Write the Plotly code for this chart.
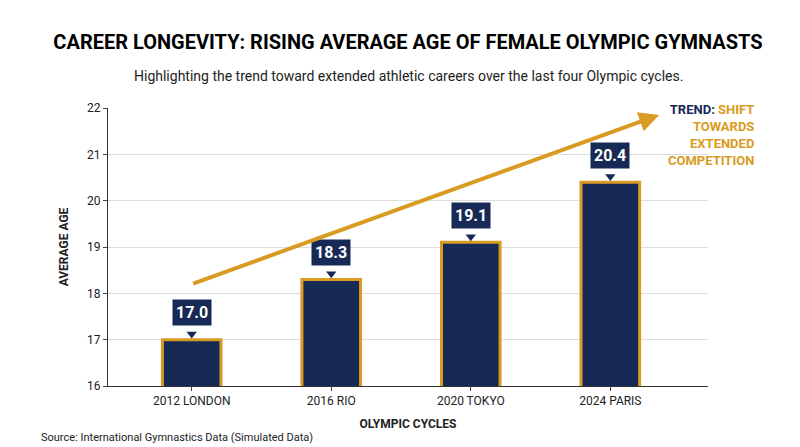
import plotly.graph_objects as go

cycles = ["2012 LONDON", "2016 RIO", "2020 TOKYO", "2024 PARIS"]
avg_age = [17.0, 18.3, 19.1, 20.4]
trend_x = [0, 3.35]
trend_y = [18.2, 21.85]

navy = "#172a56"
gold = "#d99b22"
font = "Roboto, Arial"

xs = list(range(len(cycles)))
fig = go.Figure()
fig.add_trace(go.Bar(x=xs, y=avg_age, width=0.42, marker=dict(color=navy, line=dict(color=gold, width=3)),
                     hoverinfo="skip"))
fig.add_trace(go.Scatter(x=xs, y=[v + 0.12 for v in avg_age], mode="markers",
                         marker=dict(symbol="triangle-down", size=9, color=navy), hoverinfo="skip"))

for x, v in zip(xs, avg_age):
    fig.add_annotation(x=x, y=v, text="<b>%.1f</b>" % v, showarrow=False, yshift=27,
                       bgcolor=navy, font=dict(color="white", size=16, family=font), borderpad=3)

fig.add_annotation(x=trend_x[1], y=trend_y[1], ax=trend_x[0], ay=trend_y[0], xref="x", yref="y",
                   axref="x", ayref="y", showarrow=True, arrowhead=2, arrowsize=1, arrowwidth=4,
                   arrowcolor=gold, text="")
fig.add_annotation(x=1.08, y=1.03, xref="paper", yref="paper", xanchor="right", yanchor="top", showarrow=False,
                   align="right", font=dict(size=13, family=font),
                   text="<b><span style='color:%s'>TREND:</span> <span style='color:%s'>SHIFT<br>TOWARDS<br>EXTENDED<br>COMPETITION</span></b>" % (navy, gold))

fig.update_layout(
    width=800, height=447, showlegend=False, plot_bgcolor="white", paper_bgcolor="white",
    margin=dict(l=100, r=100, t=100, b=69, autoexpand=False),
    title=dict(text="<b>CAREER LONGEVITY: RISING AVERAGE AGE OF FEMALE OLYMPIC GYMNASTS</b>",
               x=0.5, y=0.925, xanchor="center", yanchor="middle",
               font=dict(size=20, family=font, color="black")),
    font=dict(family=font, color="#222"),
    xaxis=dict(tickvals=xs, ticktext=cycles, range=[-0.6, 3.7], showline=True, linecolor="#333",
               ticks="outside", ticklen=4, tickfont=dict(size=12),
               title=dict(text="<b>OLYMPIC CYCLES</b>", font=dict(size=12), standoff=12)),
    yaxis=dict(range=[16, 22], dtick=1, gridcolor="#dddddd", showline=True, linecolor="#333",
               ticks="outside", ticklen=4, tickfont=dict(size=12),
               title=dict(text="<b>AVERAGE AGE</b>", font=dict(size=12))),
)
fig.add_annotation(x=0.5, y=1.15, xref="paper", yref="paper", showarrow=False,
                   text="Highlighting the trend toward extended athletic careers over the last four Olympic cycles.",
                   font=dict(size=14, family=font, color="#222"))
fig.add_annotation(x=-0.115, y=-0.215, xref="paper", yref="paper", showarrow=False, xanchor="left",
                   text="Source: International Gymnastics Data (Simulated Data)", font=dict(size=11, family=font))
fig.write_html("out.html")
